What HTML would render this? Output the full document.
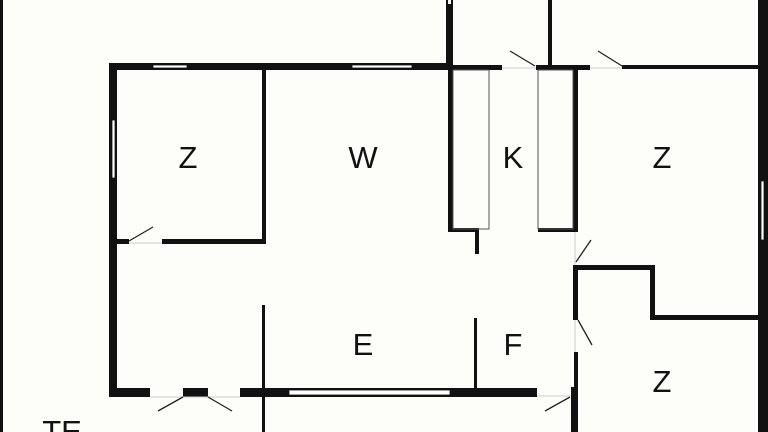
<!DOCTYPE html>
<html><head><style>
html,body{margin:0;padding:0;background:#fdfdf9;}
svg{display:block}
text{font-family:"Liberation Sans",sans-serif;font-size:31px;fill:#111;text-anchor:middle}
</style></head><body>
<svg width="768" height="432" viewBox="0 0 768 432" xmlns="http://www.w3.org/2000/svg">
<rect width="768" height="432" fill="#fdfdf9"/>
<g fill="#111">
<rect x="0" y="0" width="3" height="432"/>
<rect x="109" y="63" width="343" height="7"/>
<rect x="109" y="63" width="8" height="334"/>
<rect x="446" y="0" width="7" height="70"/>
<rect x="452" y="65" width="50" height="5"/>
<rect x="262" y="70" width="4" height="174"/>
<rect x="162" y="239" width="104" height="5"/>
<rect x="117" y="239" width="12" height="5"/>
<rect x="448" y="70" width="5" height="162"/>
<rect x="448" y="228" width="29" height="4"/>
<rect x="475" y="228" width="4" height="26"/>
<rect x="536" y="65" width="54" height="5"/>
<rect x="548" y="0" width="4" height="67"/>
<rect x="573" y="70" width="5" height="162"/>
<rect x="538" y="228" width="40" height="4"/>
<rect x="622" y="65" width="138" height="4"/>
<rect x="758" y="0" width="10" height="432"/>
<rect x="573" y="265" width="82" height="5"/>
<rect x="650" y="265" width="5" height="55"/>
<rect x="650" y="315" width="110" height="5"/>
<rect x="573" y="265" width="5" height="55"/>
<rect x="574" y="352" width="4" height="80"/>
<rect x="571" y="387" width="7" height="45"/>
<rect x="109" y="388" width="41" height="9"/>
<rect x="183" y="388" width="25" height="9"/>
<rect x="240" y="388" width="297" height="9"/>
<rect x="262" y="305" width="3" height="127"/>
<rect x="474" y="318" width="3" height="72"/>
</g>
<g fill="#fff" stroke="#111" stroke-width="0.8">
<rect x="153" y="65" width="34" height="3"/>
<rect x="352" y="65" width="60" height="3"/>
<rect x="112" y="120" width="3" height="58"/>
<rect x="289" y="390" width="161" height="5"/>
<rect x="761" y="181" width="3" height="59"/>
</g>
<rect x="448" y="0" width="3" height="4" fill="#fff"/>
<g stroke="#555" stroke-width="1" fill="none">
<rect x="453" y="70" width="36" height="159"/>
<rect x="538" y="70" width="35" height="159"/>
<line x1="502" y1="68" x2="536" y2="68" stroke="#ccc"/>
<line x1="590" y1="68" x2="622" y2="68" stroke="#ccc"/>
<line x1="129" y1="243" x2="162" y2="243" stroke="#ccc"/>
<line x1="575" y1="232" x2="575" y2="265" stroke="#ccc"/>
<line x1="575" y1="320" x2="575" y2="352" stroke="#ccc"/>
<line x1="150" y1="397" x2="240" y2="397" stroke="#ccc"/>
<line x1="537" y1="396" x2="571" y2="396" stroke="#ccc"/>
</g>
<g stroke="#222" stroke-width="1.3">
<line x1="129" y1="241" x2="153" y2="227"/>
<line x1="510" y1="51" x2="535" y2="66"/>
<line x1="598" y1="51" x2="622" y2="66"/>
<line x1="576" y1="262" x2="591" y2="240"/>
<line x1="578" y1="320" x2="592" y2="345"/>
<line x1="158" y1="411" x2="183" y2="397"/>
<line x1="208" y1="397" x2="232" y2="411"/>
<line x1="545" y1="411" x2="570" y2="397"/>
</g>
<text x="188" y="168">Z</text>
<text x="363" y="168">W</text>
<text x="513" y="168">K</text>
<text x="662" y="168">Z</text>
<text x="363" y="355">E</text>
<text x="513" y="355">F</text>
<text x="662" y="392">Z</text>
<text x="62" y="442">TE</text>
</svg>
</body></html>
